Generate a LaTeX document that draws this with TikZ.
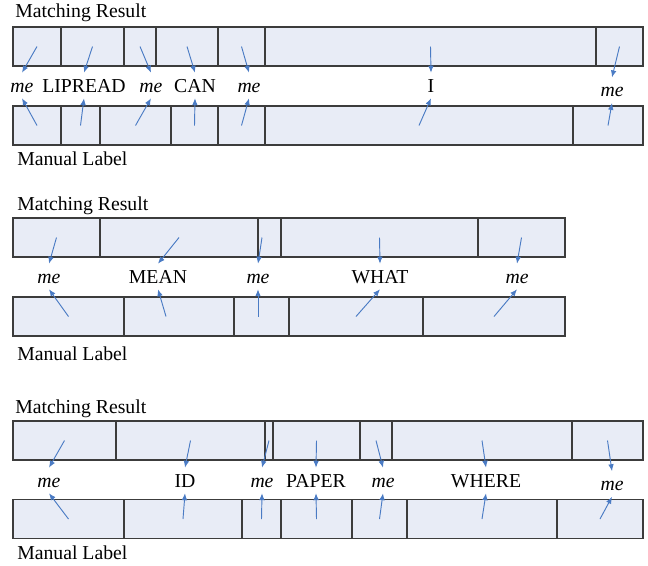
\documentclass[tikz,border=0pt]{standalone}
\usepackage{fontspec}
\setmainfont{Liberation Serif}
\usepackage{tikz}
\usetikzlibrary{arrows.meta}
\definecolor{CellFill}{HTML}{E8ECF6}
\definecolor{CellLine}{HTML}{3C3C3C}
\definecolor{Pointer}{HTML}{4A7BC4}

\begin{document}
\begin{tikzpicture}[
  x=0.75pt, y=-0.75pt,
  font=\fontsize{14.8pt}{17pt}\selectfont,
  cell/.style={draw=CellLine, line width=0.8pt, fill=CellFill, inner sep=0pt, outer sep=0pt, minimum height=29.25pt, anchor=north west},
  word/.style={inner sep=4.5pt, text height=9.8pt, text depth=0pt, anchor=base},
  caption/.style={inner sep=0pt, anchor=base west},
  arr/.style={-{Latex[length=5.2pt,width=4.2pt]}, line width=0.7pt, color=Pointer}
]
  \useasboundingbox (0,0) rectangle (648,565);

  % ---- first sentence
  \node[caption] (mrcap1) at (15,17.5) {Matching Result};
  \foreach \a/\b [count=\i] in {13/61,61/124,124/156,156/218,218/265,265/596,596/643}
    \node[cell, minimum width={(\b-\a)*0.75pt}] (mr1-\i) at (\a,27) {};
  \foreach \a/\b [count=\i] in {13/61,61/100,100/171,171/218,218/265,265/573,573/643}
    \node[cell, minimum width={(\b-\a)*0.75pt}] (ml1-\i) at (\a,106) {};
  \node[caption] (mlcap1) at (17,165) {Manual Label};

  \node[word] (w1-1) at (22,92) {\textit{me}};
  \node[word] (w1-2) at (84,92) {LIPREAD};
  \node[word] (w1-3) at (151,92) {\textit{me}};
  \node[word] (w1-4) at (195,92) {CAN};
  \node[word] (w1-5) at (249,92) {\textit{me}};
  \node[word] (w1-6) at (431,92) {I};
  \node[word] (w1-7) at (612,96.7) {\textit{me}};

  \foreach \i in {1,...,7} {
    \draw[arr] (mr1-\i.center) -- (w1-\i.north);
    \draw[arr] (ml1-\i.center) -- (w1-\i.south);
  }

  % ---- second sentence
  \node[caption] (mrcap2) at (17,210) {Matching Result};
  \foreach \a/\b [count=\i] in {13/100,100/258,258/281,281/478,478/565}
    \node[cell, minimum width={(\b-\a)*0.75pt}] (mr2-\i) at (\a,218) {};
  \foreach \a/\b [count=\i] in {13/124,124/234,234/289,289/423,423/565}
    \node[cell, minimum width={(\b-\a)*0.75pt}] (ml2-\i) at (\a,297) {};
  \node[caption] (mlcap2) at (17,360) {Manual Label};

  \node[word] (w2-1) at (49,283) {\textit{me}};
  \node[word] (w2-2) at (158,283) {MEAN};
  \node[word] (w2-3) at (258,283) {\textit{me}};
  \node[word] (w2-4) at (380,283) {WHAT};
  \node[word] (w2-5) at (517,283) {\textit{me}};

  \coordinate (from2-3) at (262,237.5);
  \coordinate (up2-2) at (166,316.5);
  \coordinate (up2-3) at (258,316.5);
  \foreach \i in {1,2,4,5}
    \draw[arr] (mr2-\i.center) -- (w2-\i.north);
  \foreach \i in {1,4,5}
    \draw[arr] (ml2-\i.center) -- (w2-\i.south);
  \draw[arr] (from2-3) -- (w2-3.north);
  \draw[arr] (up2-2) -- (w2-2.south);
  \draw[arr] (up2-3) -- (w2-3.south);

  % ---- third sentence
  \node[caption] (mrcap3) at (15,413) {Matching Result};
  \foreach \a/\b [count=\i] in {13/116,116/265,265/273,273/360,360/392,392/572,572/643}
    \node[cell, minimum width={(\b-\a)*0.75pt}] (mr3-\i) at (\a,421) {};
  \foreach \a/\b [count=\i] in {13/124,124/242,242/281,281/352,352/407,407/557,557/643}
    \node[cell, minimum width={(\b-\a)*0.75pt}] (ml3-\i) at (\a,499.5) {};
  \node[caption] (mlcap3) at (17,559) {Manual Label};

  \node[word] (w3-1) at (49,487) {\textit{me}};
  \node[word] (w3-2) at (185,487) {ID};
  \node[word] (w3-3) at (262,487) {\textit{me}};
  \node[word] (w3-4) at (316,487) {PAPER};
  \node[word] (w3-5) at (383,487) {\textit{me}};
  \node[word] (w3-6) at (486,487) {WHERE};
  \node[word] (w3-7) at (612,490.5) {\textit{me}};

  \foreach \i in {1,...,7} {
    \draw[arr] (mr3-\i.center) -- (w3-\i.north);
    \draw[arr] (ml3-\i.center) -- (w3-\i.south);
  }
\end{tikzpicture}
\end{document}
